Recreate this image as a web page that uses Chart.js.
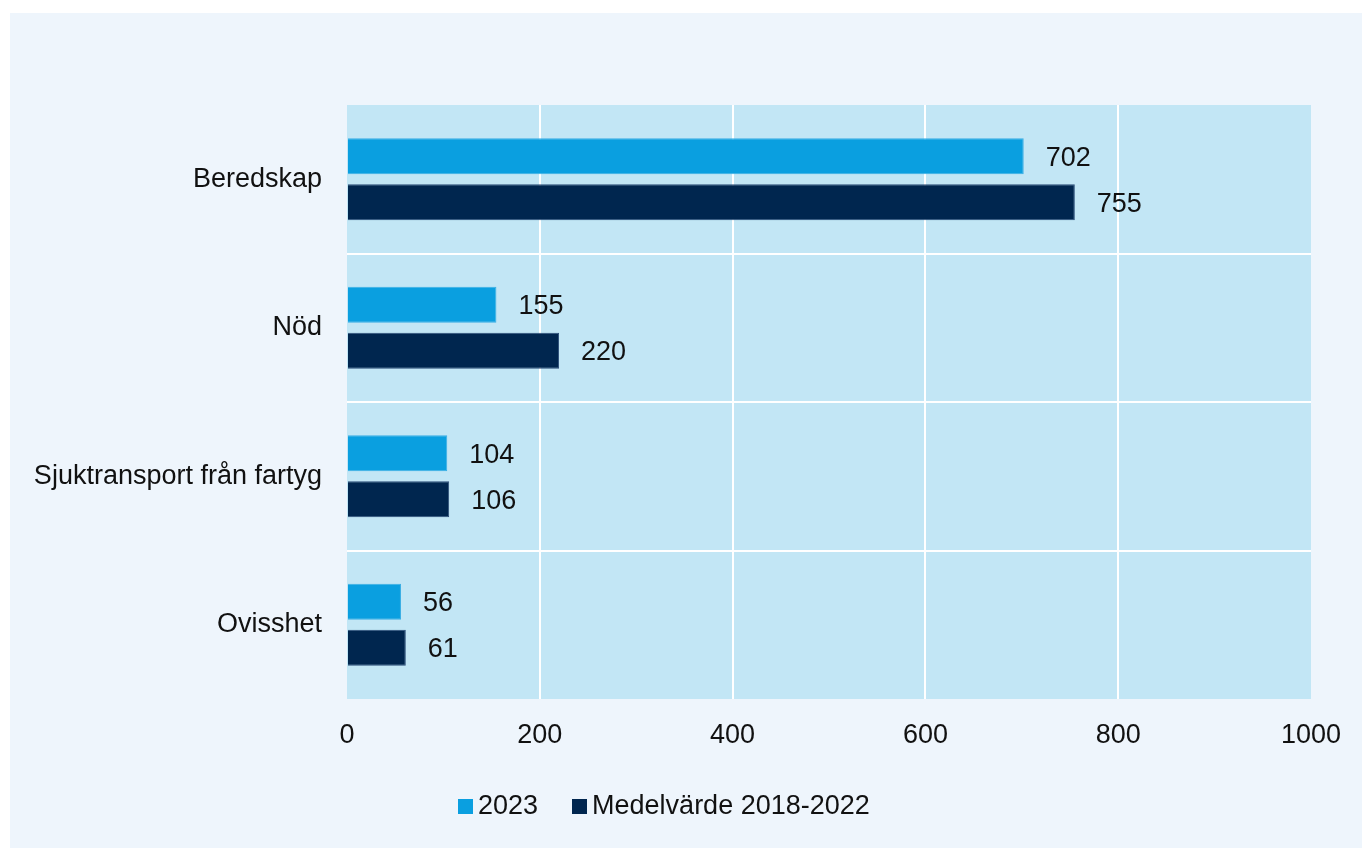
<!DOCTYPE html>
<html lang="sv">
<head>
<meta charset="utf-8">
<title>Larm per kategori</title>
<script src="https://cdn.jsdelivr.net/npm/chart.js@4.4.1/dist/chart.umd.min.js"></script>
<style>
  html, body { margin: 0; padding: 0; background: #ffffff; }
  body { width: 1362px; height: 848px; position: relative; overflow: hidden;
         font-family: "Liberation Sans", Arial, Helvetica, sans-serif; }
  #panel { position: absolute; left: 10px; top: 13px; width: 1352px; height: 835px; background: #EEF5FC; }
  #chart { position: absolute; left: 0; top: 0; }
  #legend { position: absolute; top: 777px; left: 448px; display: flex; align-items: center;
            font-size: 27px; color: #111; white-space: nowrap; }
  .item { display: flex; align-items: center; margin-right: 34px; }
  .swatch { width: 15px; height: 15px; margin-right: 5px; margin-top: 2px; }
</style>
</head>
<body>
<div id="panel">
  <canvas id="chart" width="1352" height="835"></canvas>
  <div id="legend"></div>
</div>
<script>
// Categories and values
const categories = ['Beredskap', 'Nöd', 'Sjuktransport från fartyg', 'Ovisshet'];
const values2023 = [702, 155, 104, 56];
const valuesAverage = [755, 220, 106, 61];
const seriesNames = ['2023', 'Medelvärde 2018-2022'];
const xTicks = [0, 200, 400, 600, 800, 1000];

const FONT = '"Liberation Sans", Arial, Helvetica, sans-serif';
const FONT_SIZE = 27;
const TEXT = '#111111';
const colors = ['#0A9FE0', '#00264F'];
const borders = ['#3AAEE4', '#2B4D78'];

// Light blue plot area behind the bars
const plotBackground = {
  id: 'plotBackground',
  beforeDraw(chart) {
    const { ctx, chartArea: a } = chart;
    ctx.save();
    ctx.fillStyle = '#C2E6F5';
    ctx.fillRect(a.left, a.top, a.right - a.left, a.bottom - a.top);
    ctx.restore();
  }
};

// Value labels to the right of each bar
const valueLabels = {
  id: 'valueLabels',
  afterDatasetsDraw(chart) {
    const { ctx } = chart;
    ctx.save();
    ctx.font = FONT_SIZE + 'px ' + FONT;
    ctx.fillStyle = TEXT;
    ctx.textAlign = 'left';
    ctx.textBaseline = 'middle';
    chart.data.datasets.forEach((ds, i) => {
      chart.getDatasetMeta(i).data.forEach((bar, j) => {
        ctx.fillText(String(ds.data[j]), bar.x + 22, bar.y + 2);
      });
    });
    ctx.restore();
  }
};

new Chart(document.getElementById('chart'), {
  type: 'bar',
  data: {
    labels: categories,
    datasets: [
      { label: seriesNames[0], data: values2023, backgroundColor: colors[0], borderColor: borders[0], borderWidth: 1 },
      { label: seriesNames[1], data: valuesAverage, backgroundColor: colors[1], borderColor: borders[1], borderWidth: 1 }
    ]
  },
  options: {
    indexAxis: 'y',
    responsive: false,
    animation: false,
    categoryPercentage: 0.62,
    barPercentage: 0.78,
    layout: { padding: { top: 92, right: 51, left: 0, bottom: 0 } },
    plugins: { legend: { display: false }, tooltip: { enabled: false } },
    scales: {
      x: {
        min: 0, max: 1000,
        afterBuildTicks(scale) { scale.ticks = xTicks.map(v => ({ value: v })); },
        afterFit(scale) { scale.height = 149; },
        border: { display: false },
        grid: {
          drawTicks: false,
          lineWidth: 2,
          color: c => (c.type !== 'tick' || c.tick.value === 0 || c.tick.value === 1000) ? 'rgba(0,0,0,0)' : '#FFFFFF'
        },
        ticks: {
          padding: 20, color: TEXT, font: { size: FONT_SIZE, family: FONT }, maxRotation: 0,
          callback: v => String(v)
        }
      },
      y: {
        afterFit(scale) { scale.width = 337; },
        border: { display: false },
        grid: {
          offset: true,
          drawTicks: false,
          lineWidth: 2,
          color: c => (c.type !== 'tick' || c.index === 0) ? 'rgba(0,0,0,0)' : '#FFFFFF'
        },
        ticks: { padding: 25, color: TEXT, font: { size: FONT_SIZE, family: FONT } }
      }
    }
  },
  plugins: [plotBackground, valueLabels]
});

// Legend row below the axis
const legend = document.getElementById('legend');
seriesNames.forEach((name, i) => {
  const item = document.createElement('div');
  item.className = 'item';
  const sw = document.createElement('span');
  sw.className = 'swatch';
  sw.style.background = colors[i];
  const label = document.createElement('span');
  label.textContent = name;
  item.appendChild(sw);
  item.appendChild(label);
  legend.appendChild(item);
});
</script>
</body>
</html>
